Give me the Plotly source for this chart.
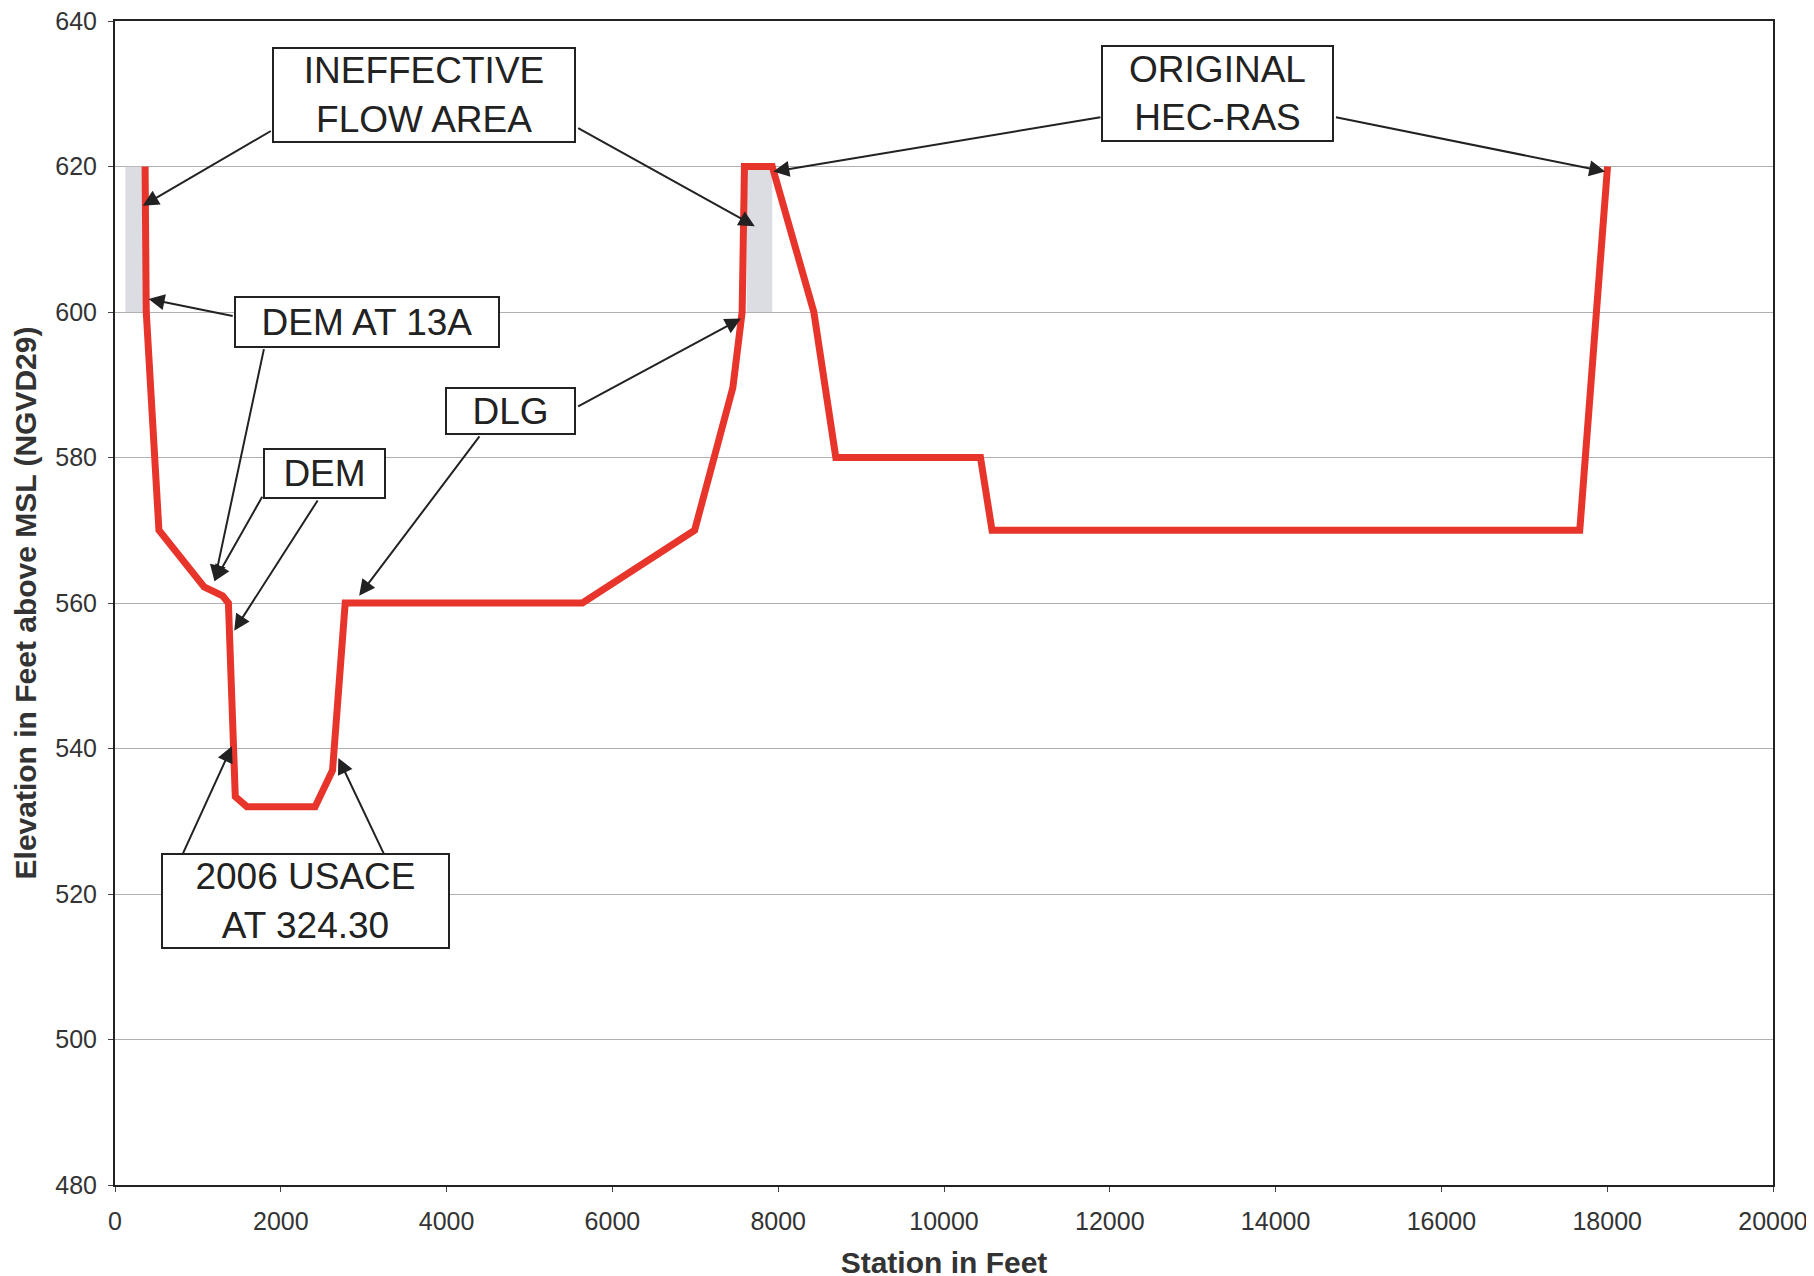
import plotly.graph_objects as go

# Cross-section profile (station ft, elevation ft)
station = [363, 377, 530, 1075, 1298, 1368, 1451, 1591, 2414, 2624, 2777, 5638,
           6992, 7453, 7565, 7593, 7928, 8430, 8695, 10440, 10579, 17669, 18004]
elevation = [620, 600, 570, 562.2, 561, 560, 533.4, 532, 532, 537, 560, 560,
             570, 589.6, 600, 620, 620, 600, 580, 580, 570, 570, 620]

# Ineffective flow areas: [x0, x1, y0, y1]
ineff_x0 = [125, 7620]
ineff_x1 = [363, 7928]
ineff_y0 = [600, 600]
ineff_y1 = [620, 620]

# Label boxes
labels = ["INEFFECTIVE<br>FLOW AREA", "DEM AT 13A", "DEM", "DLG",
          "2006 USACE<br>AT 324.30", "ORIGINAL<br>HEC-RAS"]
label_x = [3726, 3043, 2526, 4773, 2303, 13301]
label_y = [629.8, 598.6, 577.8, 586.4, 519.0, 630.0]
label_w = [300, 262, 119, 127, 285, 229]
label_h = [92, 48, 47, 44, 92, 93]

# Arrows: tail (from box) -> head (on profile)
arrow_tail_x = [1898, 5569, 1438, 1800, 1786, 2456, 5569, 4410, 809, 3252, 11905, 14710]
arrow_tail_y = [625.0, 625.4, 599.4, 595.1, 574.8, 574.3, 586.9, 583.1, 525.3, 525.3, 626.8, 626.8]
arrow_head_x = [335, 7718, 405, 1200, 1200, 1438, 7551, 2945, 1410, 2694, 7941, 17976]
arrow_head_y = [614.6, 611.8, 601.8, 563.0, 563.0, 556.2, 599.1, 561.0, 540.3, 538.7, 619.3, 619.3]

FONT = "Arial, Liberation Sans, sans-serif"

fig = go.Figure()

for x0, x1, y0, y1 in zip(ineff_x0, ineff_x1, ineff_y0, ineff_y1):
    fig.add_trace(go.Scatter(
        x=[x0, x1, x1, x0, x0], y=[y0, y0, y1, y1, y0],
        mode="lines", fill="toself", fillcolor="rgba(205,205,215,0.7)",
        line=dict(width=0), hoverinfo="skip", showlegend=False))

fig.add_trace(go.Scatter(
    x=station, y=elevation, mode="lines",
    line=dict(color="#e8352c", width=7), showlegend=False))

annotations = []
for tx, ty, hx, hy in zip(arrow_tail_x, arrow_tail_y, arrow_head_x, arrow_head_y):
    annotations.append(dict(
        x=hx, y=hy, ax=tx, ay=ty, xref="x", yref="y", axref="x", ayref="y",
        text="", showarrow=True, arrowhead=2, arrowsize=1.6, arrowwidth=2,
        arrowcolor="#222222", standoff=0, startstandoff=0))

for t, x, y, w, h in zip(labels, label_x, label_y, label_w, label_h):
    annotations.append(dict(
        x=x, y=y, xref="x", yref="y", text=t, showarrow=False,
        font=dict(family=FONT, size=37, color="#222222"),
        bgcolor="white", bordercolor="#222222", borderwidth=2, borderpad=0,
        width=w, height=h, align="center", valign="middle"))

fig.update_layout(
    width=1814, height=1276,
    margin=dict(l=107, r=49, t=13, b=99),
    paper_bgcolor="white", plot_bgcolor="white",
    font=dict(family=FONT, color="#333333"),
    annotations=annotations,
    showlegend=False,
)

fig.update_xaxes(
    range=[0, 20000], dtick=2000, tick0=0, tickformat="d", showgrid=False, zeroline=False,
    showline=True, mirror=True, linecolor="#222222", linewidth=2,
    ticks="outside", ticklen=5, tickcolor="#444444", ticklabelstandoff=8,
    ticklabeloverflow="allow",
    tickfont=dict(size=25, color="#333333", family=FONT), automargin=False,
    title=dict(text="<b>Station in Feet</b>", font=dict(size=30, color="#333333", family=FONT), standoff=18),
)
fig.update_yaxes(
    range=[480, 640], dtick=20, tick0=480, showgrid=True, gridcolor="#b0b0b0", gridwidth=1,
    zeroline=False, showline=True, mirror=True, linecolor="#222222", linewidth=2,
    ticks="outside", ticklen=5, tickcolor="#444444", ticklabelstandoff=6,
    ticklabeloverflow="allow",
    tickfont=dict(size=25, color="#333333", family=FONT), automargin=False,
    title=dict(text="<b>Elevation in Feet above MSL (NGVD29)</b>", font=dict(size=30, color="#333333", family=FONT), standoff=10),
)

fig.write_html("out.html")
